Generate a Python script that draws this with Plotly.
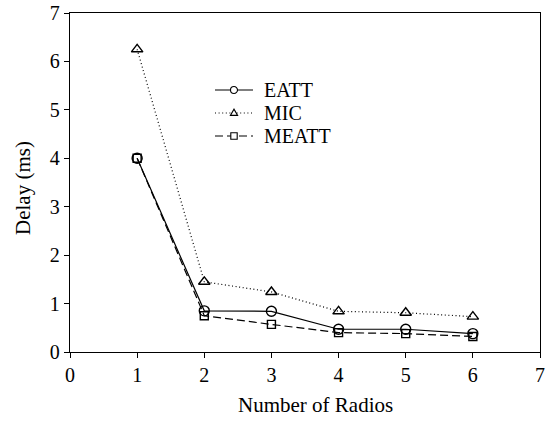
import plotly.graph_objects as go

radios = [1, 2, 3, 4, 5, 6]
eatt = [4.0, 0.85, 0.84, 0.47, 0.47, 0.38]
mic = [6.25, 1.45, 1.24, 0.84, 0.81, 0.73]
meatt = [4.0, 0.75, 0.57, 0.40, 0.38, 0.32]

series = [
    ("EATT", eatt, "solid", "circle-open", 10),
    ("MIC", mic, "1px,2.6px", "triangle-up-open", 10),
    ("MEATT", meatt, "8px,4px", "square-open", 8),
]

font_family = "Liberation Serif"

# figure geometry (pixels)
W, H = 554, 421
ML, MR, MT, MB = 70, 14, 13, 69
PW, PH = W - ML - MR, H - MT - MB


def px_x(px):
    return (px - ML) / PW


def px_y(py):
    return (H - MB - py) / PH


fig = go.Figure()
for name, vals, dash, symbol, size in series:
    fig.add_trace(go.Scatter(
        x=radios, y=vals, name=name, mode="lines+markers", showlegend=False,
        line=dict(color="black", width=1.2, dash=dash),
        marker=dict(symbol=symbol, size=size, color="black",
                    line=dict(width=1.4, color="black")),
    ))

axis_common = dict(
    showline=True, linecolor="black", linewidth=1.3, mirror=True,
    ticks="outside", ticklen=5, tickwidth=1.3, tickcolor="black",
    showgrid=False, zeroline=False, automargin=False,
    tickfont=dict(family=font_family, size=20, color="black"),
)

# hand-placed legend: key line, key marker and label per series
shapes = []
annotations = []
key_x0, key_x1, key_mid, label_x = 215, 253, 234, 262
row_y = [90, 113, 136]
key_paths = {
    "circle-open": ("circle", None),
    "triangle-up-open": ("path", "M -3.6 -2.4 L 3.6 -2.4 L 0 3.8 Z"),
    "square-open": ("rect", None),
}
for (name, _, dash, symbol, _), ry in zip(series, row_y):
    shapes.append(dict(type="line", xref="paper", yref="paper",
                       x0=px_x(key_x0), x1=px_x(key_x1), y0=px_y(ry), y1=px_y(ry),
                       line=dict(color="black", width=1.2, dash=dash)))
    kind, path = key_paths[symbol]
    marker_shape = dict(type=kind, xref="paper", yref="paper",
                        xsizemode="pixel", ysizemode="pixel",
                        xanchor=px_x(key_mid), yanchor=px_y(ry),
                        fillcolor="white", line=dict(color="black", width=1.1))
    if kind == "path":
        marker_shape["path"] = path
    else:
        r = 3.5 if kind == "circle" else 3.2
        marker_shape.update(x0=-r, x1=r, y0=-r, y1=r)
    shapes.append(marker_shape)
    annotations.append(dict(text=name, xref="paper", yref="paper",
                            x=px_x(label_x), y=px_y(ry), xanchor="left", yanchor="middle",
                            showarrow=False,
                            font=dict(family=font_family, size=20, color="black")))

# axis titles
annotations.append(dict(text="Number of Radios", xref="paper", yref="paper",
                        x=px_x(315), y=px_y(405), xanchor="center", yanchor="middle",
                        showarrow=False, font=dict(family=font_family, size=21, color="black")))
annotations.append(dict(text="Delay (ms)", xref="paper", yref="paper", textangle=-90,
                        x=px_x(23), y=px_y(188), xanchor="center", yanchor="middle",
                        showarrow=False, font=dict(family=font_family, size=21, color="black")))

fig.update_layout(
    width=W, height=H,
    margin=dict(l=ML, r=MR, t=MT, b=MB, autoexpand=False),
    paper_bgcolor="white", plot_bgcolor="white",
    font=dict(family=font_family, color="black"),
    xaxis=dict(range=[0, 7], dtick=1, **axis_common),
    yaxis=dict(range=[0, 7], dtick=1, **axis_common),
    shapes=shapes,
    annotations=annotations,
    showlegend=False,
)

fig.write_html("out.html")
